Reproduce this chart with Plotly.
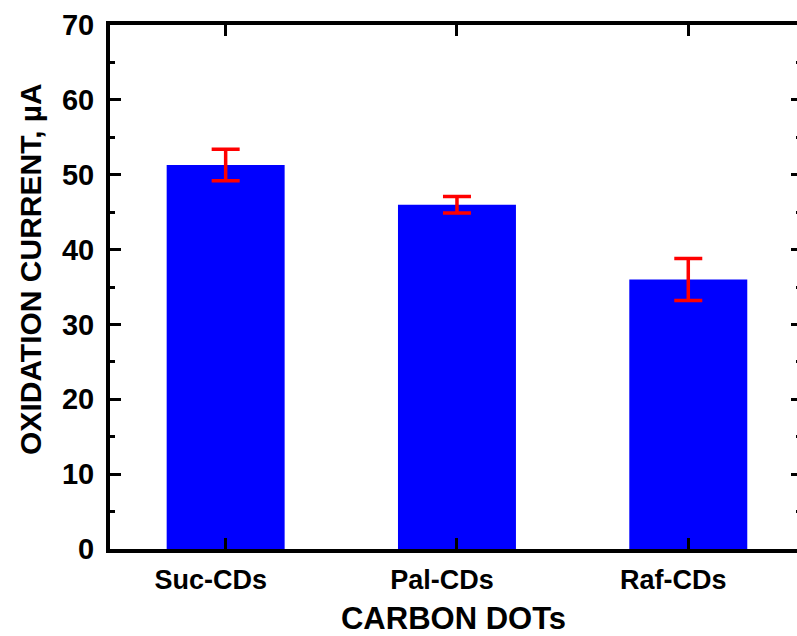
import plotly.graph_objects as go

# Oxidation current measured for each carbon-dot sample
samples = ["Suc-CDs", "Pal-CDs", "Raf-CDs"]
current_uA = [51.3, 46.0, 36.0]
current_err = [2.1, 1.1, 2.8]

y_ticks = [0, 10, 20, 30, 40, 50, 60, 70]

FONT = "Liberation Sans, Arial, sans-serif"

fig = go.Figure()
fig.add_trace(go.Bar(
    x=samples,
    y=current_uA,
    width=0.51,
    marker=dict(color="#0000FF", line=dict(width=0)),
    error_y=dict(type="data", array=current_err, visible=True,
                 color="#FF0000", thickness=3.5, width=14),
    showlegend=False,
))
# empty trace so the right-hand tick axis gets drawn
fig.add_trace(go.Scatter(x=[], y=[], yaxis="y2", showlegend=False,
                         hoverinfo="skip"))

fig.update_layout(
    width=797,
    height=636,
    margin=dict(l=110, r=0, t=25, b=87),
    paper_bgcolor="white",
    plot_bgcolor="white",
    xaxis=dict(
        range=[-0.5, 2.47],
        showline=True, linewidth=4, linecolor="black",
        mirror="ticks",
        ticks="inside", ticklen=11, tickwidth=3, tickcolor="black",
        minor=dict(ticks="inside", ticklen=5, tickwidth=3, tickcolor="black",
                   dtick=1, tick0=0.5),
        tickfont=dict(family=FONT, size=27, color="black", weight="bold"),
        ticklabelshift=-15,
        ticklabelstandoff=4,
        showgrid=False, zeroline=False,
        title=dict(text="CARBON DOTs",
                   font=dict(family=FONT, size=31, color="black", weight="bold"),
                   standoff=16),
    ),
    yaxis=dict(
        range=[0, 70],
        tickvals=y_ticks,
        showline=True, linewidth=4, linecolor="black",
        ticks="inside", ticklen=11, tickwidth=3, tickcolor="black",
        minor=dict(ticks="inside", ticklen=5, tickwidth=3, tickcolor="black",
                   dtick=5),
        tickfont=dict(family=FONT, size=29, color="black", weight="bold"),
        ticklabelstandoff=6,
        showgrid=False, zeroline=False,
    ),
    yaxis2=dict(
        range=[0, 70],
        overlaying="y",
        side="right",
        tickvals=y_ticks,
        showline=False,
        ticks="inside", ticklen=6, tickwidth=3, tickcolor="black",
        minor=dict(ticks="inside", ticklen=1, tickwidth=3, tickcolor="black",
                   dtick=5),
        showticklabels=False,
        showgrid=False, zeroline=False,
    ),
    annotations=[dict(
        text="OXIDATION CURRENT, µA",
        textangle=-90,
        xref="paper", yref="paper",
        x=-0.116, y=0.535,
        xanchor="center", yanchor="middle",
        showarrow=False,
        font=dict(family=FONT, size=30, color="black", weight="bold"),
    )],
)

fig.write_html("out.html")
